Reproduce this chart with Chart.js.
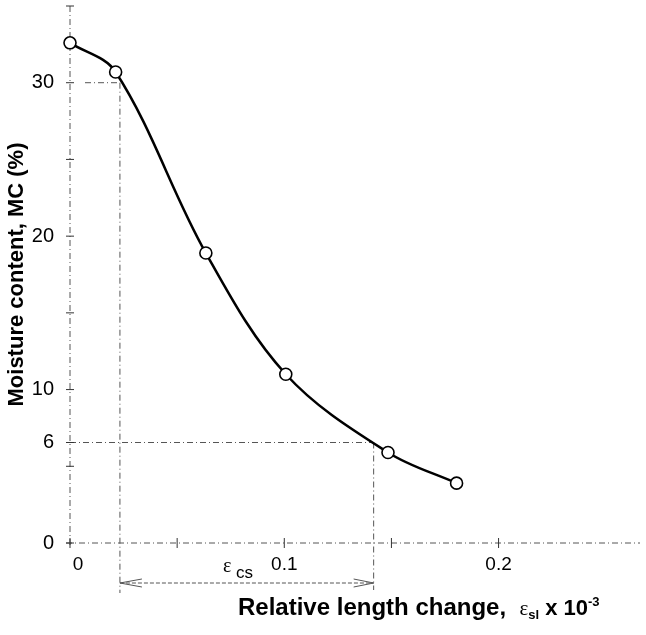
<!DOCTYPE html>
<html>
<head>
  <meta charset="utf-8"/>
  <script src="https://cdn.jsdelivr.net/npm/chart.js@4/dist/chart.umd.min.js"></script>
  <style>
    html, body { margin: 0; padding: 0; background: #ffffff; }
    #wrap { width: 646px; height: 635px; }
  </style>
</head>
<body>
  <div id="wrap"><canvas id="chart" width="646" height="635"></canvas></div>
  <script>
    // values
    var strain = [0, 0.0213, 0.0634, 0.1007, 0.1484, 0.1804];   // eps_sl x 10^-3
    var moisture = [32.6, 30.7, 18.9, 11.0, 5.9, 3.9];         // MC (%)

    var xTicks = [0, 0.05, 0.1, 0.15, 0.2];
    var xTickLabels = ['   0', '', '0.1', '', '0.2'];
    // the "6" line sits a bit above 6 in the original drawing
    var yTicks = [0, 5, 6.55, 10, 15, 20, 25, 30, 35];
    var yTickLabels = ['0', '', '6', '10', '', '20', '', '30', ''];

    // dash-dot guide lines: fibre saturation point and eps_cs span
    var guideX = [0.0233, 0.1417];
    var guideY = [30, 6.55];

    var SANS = '"Liberation Sans", Arial, sans-serif';
    var SERIF = '"Liberation Serif", "Times New Roman", serif';
    var DASHDOT = [6, 3, 1, 3];

    function setTicks(values) {
      return function(scale) {
        scale.ticks = values.map(function(v) { return { value: v }; });
      };
    }

    var overlay = {
      id: 'overlay',
      beforeDatasetsDraw: function(chart) {
        var ctx = chart.ctx;
        var xs = chart.scales.x, ys = chart.scales.y;
        var x0 = xs.getPixelForValue(0), y0 = ys.getPixelForValue(0);
        ctx.save();
        ctx.strokeStyle = '#555';
        ctx.lineWidth = 1;
        ctx.setLineDash(DASHDOT);

        // axes
        ctx.beginPath();
        ctx.moveTo(x0, ys.getPixelForValue(35));
        ctx.lineTo(x0, y0 + 5);
        ctx.moveTo(x0 - 4, y0);
        ctx.lineTo(xs.right, y0);
        ctx.stroke();

        // guides
        ctx.beginPath();
        for (var i = 0; i < guideX.length; i++) {
          var gx = xs.getPixelForValue(guideX[i]);
          var gy = ys.getPixelForValue(guideY[i]);
          ctx.moveTo(x0 + (i === 0 ? 15 : 0), gy);
          ctx.lineTo(gx, gy);
          ctx.moveTo(gx, gy);
          ctx.lineTo(gx, y0 + 50 - i * 3);
        }
        ctx.stroke();

        // tick crosses
        ctx.setLineDash([]);
        ctx.strokeStyle = '#333';
        ctx.beginPath();
        yTicks.forEach(function(v) {
          var p = ys.getPixelForValue(v);
          ctx.moveTo(x0 - 4, p);
          ctx.lineTo(x0 + 4, p);
        });
        xTicks.forEach(function(v) {
          var p = xs.getPixelForValue(v);
          ctx.moveTo(p, y0 - 5);
          ctx.lineTo(p, y0 + 5);
        });
        ctx.stroke();

        // eps_cs double arrow
        var ax1 = xs.getPixelForValue(guideX[0]);
        var ax2 = xs.getPixelForValue(guideX[1]);
        var ay = y0 + 40;
        ctx.strokeStyle = '#555';
        ctx.setLineDash([4, 2]);
        ctx.beginPath();
        ctx.moveTo(ax1, ay);
        ctx.lineTo(ax2, ay);
        ctx.stroke();
        ctx.setLineDash([]);
        ctx.beginPath();
        ctx.moveTo(ax1 + 22, ay - 4); ctx.lineTo(ax1, ay); ctx.lineTo(ax1 + 22, ay + 4);
        ctx.moveTo(ax2 - 20, ay - 4); ctx.lineTo(ax2, ay); ctx.lineTo(ax2 - 20, ay + 4);
        ctx.stroke();

        ctx.fillStyle = '#000';
        ctx.textBaseline = 'alphabetic';
        ctx.font = '20px ' + SERIF;
        ctx.fillText('\u03b5', 223, ay - 11);
        ctx.font = '17px ' + SANS;
        ctx.fillText('cs', 236, ay - 5);

        // x axis title
        var tx = 238, tb = 615;
        ctx.font = 'bold 24px ' + SANS;
        var part = 'Relative length change,  ';
        ctx.fillText(part, tx, tb);
        tx += ctx.measureText(part).width;
        ctx.font = '21px ' + SERIF;
        ctx.fillText('\u03b5', tx, tb);
        tx += ctx.measureText('\u03b5').width;
        ctx.font = 'bold 13px ' + SANS;
        ctx.fillText('sl', tx, tb + 4);
        tx += ctx.measureText('sl').width;
        ctx.font = 'bold 22px ' + SANS;
        ctx.fillText(' x 10', tx, tb);
        tx += ctx.measureText(' x 10').width;
        ctx.font = 'bold 13px ' + SANS;
        ctx.fillText('-3', tx, tb - 9);
        ctx.restore();
      }
    };

    new Chart(document.getElementById('chart'), {
      type: 'line',
      data: {
        datasets: [{
          data: strain.map(function(x, i) { return { x: x, y: moisture[i] }; }),
          borderColor: '#000',
          borderWidth: 2.5,
          tension: 0.35,
          clip: false,
          pointRadius: 6,
          pointBorderWidth: 1.6,
          pointBackgroundColor: '#fff',
          pointBorderColor: '#000'
        }]
      },
      options: {
        responsive: false,
        animation: false,
        layout: { autoPadding: false, padding: { top: 6, right: 6, left: 0, bottom: 0 } },
        plugins: { legend: { display: false }, tooltip: { enabled: false } },
        scales: {
          x: {
            type: 'linear',
            min: 0,
            max: 0.266,
            afterBuildTicks: setTicks(xTicks),
            afterFit: function(scale) {
              scale.height = 92;
              scale.paddingLeft = 0;
              scale.paddingRight = 0;
            },
            grid: { display: false },
            border: { display: false },
            ticks: {
              padding: 2,
              color: '#000',
              maxRotation: 0,
              font: { family: SANS, size: 19 },
              callback: function(v, i) { return xTickLabels[i]; }
            }
          },
          y: {
            min: 0,
            max: 35,
            afterBuildTicks: setTicks(yTicks),
            afterFit: function(scale) {
              scale.width = 70;
              scale.paddingTop = 0;
              scale.paddingBottom = 0;
            },
            grid: { display: false },
            border: { display: false },
            ticks: {
              padding: 8,
              color: '#000',
              font: { family: SANS, size: 20 },
              callback: function(v, i) { return yTickLabels[i]; }
            },
            title: {
              display: true,
              text: 'Moisture content, MC (%)',
              color: '#000',
              padding: { top: 4, bottom: 0 },
              font: { family: SANS, size: 22, weight: 'bold' }
            }
          }
        }
      },
      plugins: [overlay]
    });
  </script>
</body>
</html>
